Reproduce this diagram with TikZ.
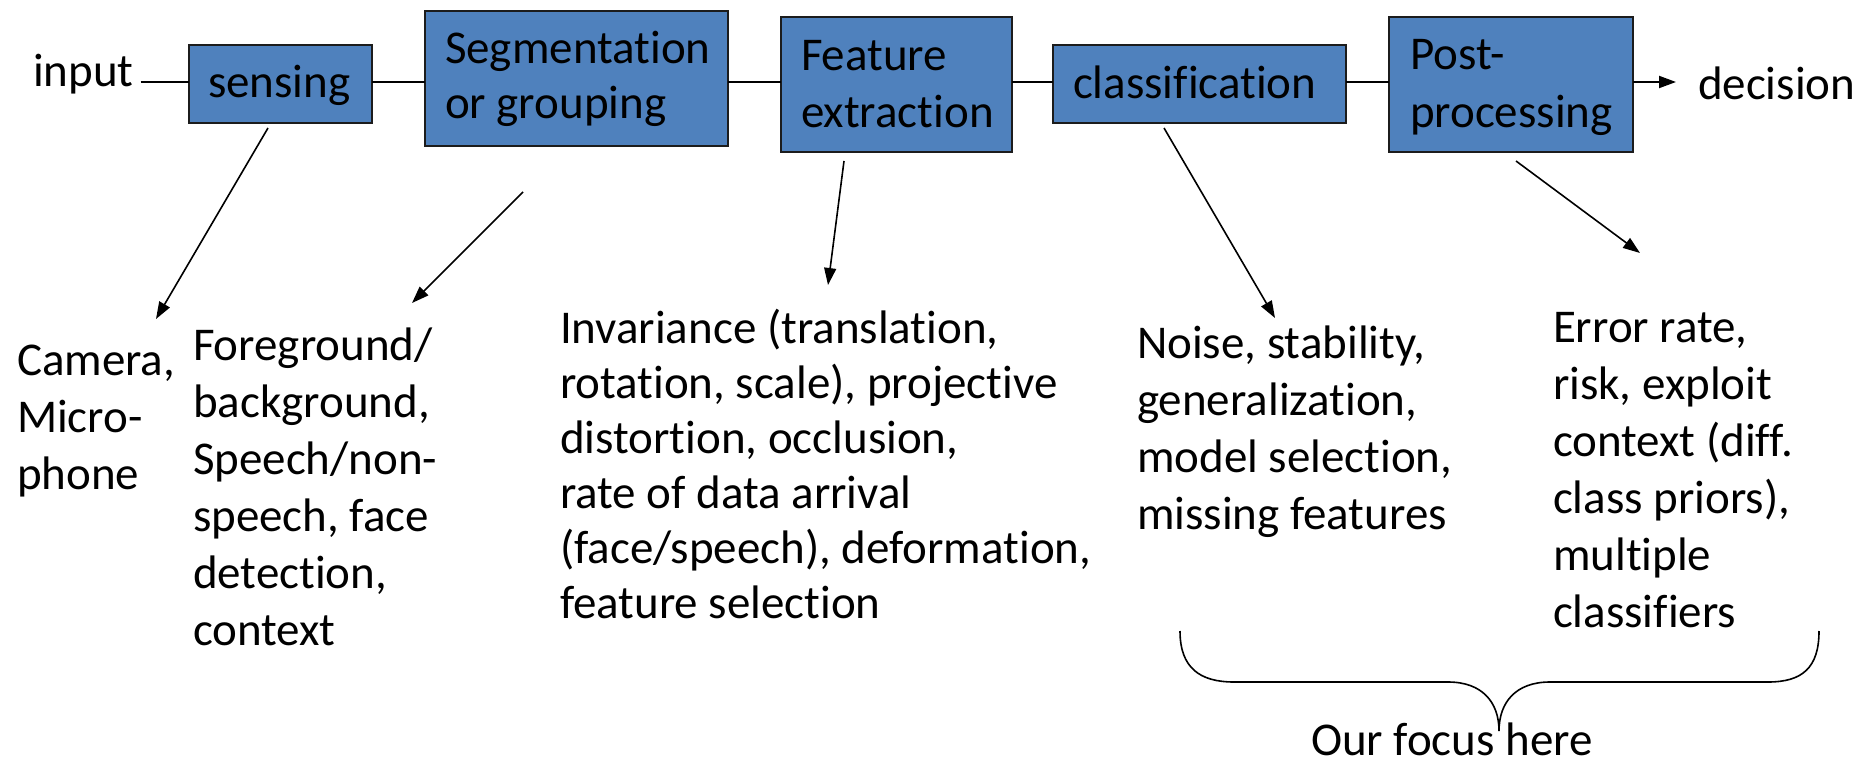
\documentclass[tikz,border=0pt]{standalone}
\usepackage{fontspec}
\setmainfont{Carlito}[RawFeature={-liga}]
\usetikzlibrary{arrows.meta}
\definecolor{stagefill}{HTML}{4F81BD}
\definecolor{stageedge}{HTML}{1C1C1C}
% left-aligned block of lines whose baseline is the first line
\newcommand{\linestack}[2]{\vtop{\baselineskip=#1pt\lineskiplimit=-1000pt\halign{##\hfil\cr#2\crcr}}}
\begin{document}
\begin{tikzpicture}[x=1pt,y=-1pt,
  every node/.style={inner sep=0pt, outer sep=0pt, font=\fontsize{47}{57}\selectfont},
  stagebox/.style={draw=stageedge, line width=2pt, fill=stagefill},
  txt/.style={anchor=base west},
  flow/.style={line width=2pt},
  tip/.style={-{Triangle[length=17pt,width=12pt]}},
  note/.style={line width=1.6pt, -{Triangle[length=17pt,width=12pt]}},
  bracestyle/.style={line width=1.6pt}
]
\useasboundingbox (0,0) rectangle (1873,765);

% processing stages
\node[stagebox, minimum width=183pt, minimum height=78pt]  (sens)  at (280.5,84)  {};
\node[stagebox, minimum width=303pt, minimum height=135pt] (seg)   at (576.5,78.5) {};
\node[stagebox, minimum width=231pt, minimum height=135pt] (feat)  at (896.5,84.5) {};
\node[stagebox, minimum width=293pt, minimum height=78pt]  (class) at (1199.5,84) {};
\node[stagebox, minimum width=244pt, minimum height=135pt] (post)  at (1511,84.5) {};

% stage labels
\node[txt] (sensT)  at (208,98)  {sensing};
\node[txt] (segT)   at (445,64)  {\linestack{55}{Segmentation\cr or grouping}};
\node[txt] (featT)  at (801,71)  {\linestack{57}{Feature\cr extraction}};
\node[txt] (classT) at (1073,99) {classification};
\node[txt] (postT)  at (1410,70) {\linestack{58}{Post-\cr processing}};

% input and output
\node[txt] (input)    at (33,87)    {input};
\node[txt] (decision) at (1698,100) {decision};

% main flow line
\coordinate (flowy) at (0,82);
\draw[flow] ([xshift=7pt]input.east |- flowy) -- (sens.west |- flowy);
\draw[flow] (sens.east |- flowy) -- (seg.west |- flowy);
\draw[flow] (seg.east |- flowy) -- (feat.west |- flowy);
\draw[flow] (feat.east |- flowy) -- (class.west |- flowy);
\draw[flow] (class.east |- flowy) -- (post.west |- flowy);
\draw[flow, tip] (post.east |- flowy) -- ([xshift=-22pt]decision.west |- flowy);

% issues of each stage
\node[txt] (sensN)  at (17,375)   {\linestack{57}{Camera,\cr Micro-\cr phone}};
\node[txt] (segN)   at (193,360)  {\linestack{57}{Foreground/\cr background,\cr Speech/non-\cr speech, face\cr detection,\cr context}};
\node[txt] (featN)  at (560,343)  {\linestack{55}{Invariance (translation,\cr rotation, scale), projective\cr distortion, occlusion,\cr rate of data arrival\cr (face/speech), deformation,\cr feature selection}};
\node[txt] (classN) at (1137,358) {\linestack{57}{Noise, stability,\cr generalization,\cr model selection,\cr missing features}};
\node[txt] (postN)  at (1553,342) {\linestack{57}{Error rate,\cr risk, exploit\cr context (diff.\cr class priors),\cr multiple\cr classifiers}};

% pointers from stages to their issues
\coordinate (sensA)  at (268,128);   \coordinate (sensB)  at (156,319);
\coordinate (segA)   at (523,192);   \coordinate (segB)   at (412,303);
\coordinate (featA)  at (844,161);   \coordinate (featB)  at (828,285);
\coordinate (classA) at (1164,128);  \coordinate (classB) at (1275,318);
\coordinate (postA)  at (1516,161);  \coordinate (postB)  at (1640,253);
\draw[note] (sensA)  -- (sensB);
\draw[note] (segA)   -- (segB);
\draw[note] (featA)  -- (featB);
\draw[note] (classA) -- (classB);
\draw[note] (postA)  -- (postB);

% brace over the last two stages
\coordinate (braceL) at (1180,631);
\coordinate (braceR) at (1819,631);
\coordinate (braceM) at (1499,731);
\draw[bracestyle] (braceL) .. controls (1180,668) and (1200,682) .. (1234,682)
  -- (1448,682) .. controls (1482,682) and (1499,702) .. (braceM)
  .. controls (1499,702) and (1516,682) .. (1550,682)
  -- (1768,682) .. controls (1802,682) and (1819,668) .. (braceR);
\node[txt] (focus) at (1311,755) {Our focus here};
\end{tikzpicture}
\end{document}
